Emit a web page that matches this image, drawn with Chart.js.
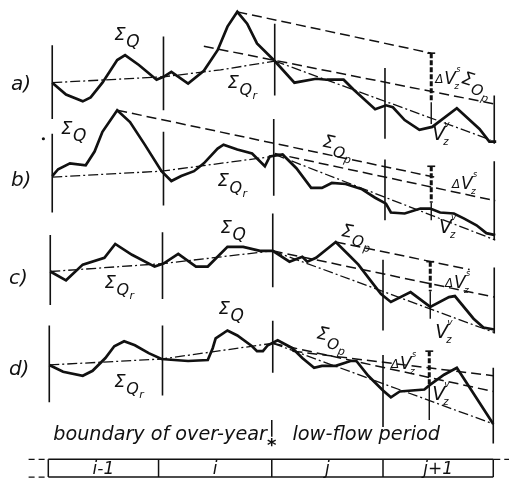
<!DOCTYPE html>
<html><head><meta charset="utf-8">
<script src="https://cdn.jsdelivr.net/npm/chart.js@4"></script>
<style>html,body{margin:0;padding:0;background:#fff;}canvas{display:block;}</style>
</head><body>
<canvas id="c" width="514" height="483"></canvas>
<script>
// ---- time axis: period boundaries (i-1, i, j, j+1) ----
const periods = ['i-1', 'i', 'j', 'j+1'];
const periodBounds = [45, 157, 272, 385, 497];

// ---- panel a) ----
const sumQ_a = [[49,80],[63,92],[80,99],[88,95],[100,80],[115,57],[123,52],[137,62],[155,77],[162,74],[170,69],[187,81],[203,68],[217,47],[227,23],[237,8],[247,20],[257,40],[275,58],[295,80],[317,76],[328,77],[345,77],[355,87],[377,107],[388,103],[395,105],[407,118],[422,128],[435,125],[460,106],[483,127],[493,140],[500,140]];
const sumQr_a = [[49,80],[162,74],[220,67],[275,58]];
const sumOp_a = [[237,8],[434,50]];
const mid_a = [[203,43],[500,102]];
const low_a = [[275,58],[494,138]];

// ---- panel b) ----
const sumQ_b = [[49,175],[55,168],[67,162],[83,164],[92,150],[100,130],[115,108],[128,120],[143,143],[160,170],[170,180],[180,175],[193,170],[203,162],[217,147],[223,143],[237,148],[252,152],[265,165],[270,155],[283,153],[297,167],[312,187],[323,187],[333,182],[347,183],[363,188],[377,197],[388,203],[393,212],[407,213],[423,208],[433,208],[443,212],[457,213],[467,218],[480,225],[490,233],[499,235]];
const sumQr_b = [[49,176],[160,170],[273,155]];
const sumOp_b = [[115,108],[437,176]];
const mid_b = [[275,152],[499,200]];
const low_b = [[275,153],[499,240]];

// ---- panel c) ----
const sumQ_c = [[47,272],[63,281],[80,265],[102,258],[113,244],[130,255],[153,267],[162,264],[177,254],[195,267],[207,267],[227,247],[243,247],[260,251],[273,251],[290,262],[303,257],[308,262],[317,258],[337,242],[350,255],[360,265],[373,282],[383,295],[393,303],[413,293],[433,308],[452,298],[458,297],[477,320],[487,329],[498,331]];
const sumQr_c = [[47,272],[161,264],[273,251]];
const sumOp_c = [[337,242],[473,270]];
const mid_c = [[273,251],[498,298]];
const low_c = [[273,251],[498,334]];

// ---- panel d) ----
const sumQ_d = [[46,367],[60,374],[80,378],[90,373],[103,360],[112,348],[122,343],[133,347],[147,355],[160,361],[173,362],[187,363],[207,362],[212,350],[215,340],[227,332],[237,337],[252,348],[257,353],[263,353],[268,347],[278,342],[293,350],[303,360],[315,370],[323,368],[337,368],[352,363],[358,363],[370,378],[385,393],[393,400],[402,394],[427,392],[433,387],[447,377],[460,370],[473,390],[497,427]];
const sumQr_d = [[46,367],[160,361],[273,345]];
const sumOp_d = [[293,353],[497,378]];
const mid_d = [[273,345],[497,394]];
const low_d = [[273,345],[497,427]];

// ---- period boundary verticals: [x, top, bottom] ----
const verticals = [
  [49,42,117],[162,33,108],[275,20,93],[387,65,137],[498,93,142],
  [49,132,212],[162,130,205],[274,117,195],[387,158,220],[498,160,240],
  [47,235,306],[161,232,300],[273,213,288],[385,260,332],[498,268,335],
  [46,327,405],[161,327,398],[273,322,375],[385,357,430],[497,370,447]
];
// ---- storage change ΔV (bold) and V (thin): [x, top, mid, bottom] ----
const deltaV = [[434,50,100,122],[434,165,202,220],[433,262,292,320],[432,353,388,423]];
const boundaryMark = [272, 423, 440];

const ink = '#111';
function line(points, width, dash) {
  return {data: points.map(p => ({x: p[0], y: p[1]})), showLine: true, borderColor: ink,
    backgroundColor: ink, borderWidth: width, borderDash: dash || [], pointRadius: 0,
    tension: 0, fill: false, clip: false};
}
const DASH = [10, 5], DASHDOT = [10, 3, 2, 3];
const datasets = [];
for (const v of verticals) datasets.push(line([[v[0], v[1]], [v[0], v[2]]], 1.6));
for (const [q, qr, op, mid, low] of [
  [sumQ_a, sumQr_a, sumOp_a, mid_a, low_a], [sumQ_b, sumQr_b, sumOp_b, mid_b, low_b],
  [sumQ_c, sumQr_c, sumOp_c, mid_c, low_c], [sumQ_d, sumQr_d, sumOp_d, mid_d, low_d]]) {
  datasets.push(line(q, 2.7));
  datasets.push(line(qr, 1.3, DASHDOT));
  datasets.push(line(op, 1.5, DASH));
  datasets.push(line(mid, 1.5, DASH));
  datasets.push(line(low, 1.3, DASHDOT));
}
for (const d of deltaV) {
  datasets.push(line([[d[0], d[1]], [d[0], d[2]]], 3, [5, 2]));
  datasets.push(line([[d[0], d[2]], [d[0], d[3]]], 1.4));
  datasets.push(line([[d[0] - 4, d[1]], [d[0] + 4, d[1]]], 1.6));
}
datasets.push(line([[boundaryMark[0], boundaryMark[1]], [boundaryMark[0], boundaryMark[2]]], 1.5));
// table of periods
const tTop = 463, tBot = 481;
datasets.push(line([[periodBounds[0], tTop], [periodBounds[4], tTop]], 1.5));
datasets.push(line([[periodBounds[0], tBot], [periodBounds[4], tBot]], 1.5));
datasets.push(line([[25, tTop], [periodBounds[0], tTop]], 1.3, [6, 4]));
datasets.push(line([[25, tBot], [periodBounds[0], tBot]], 1.3, [6, 4]));
datasets.push(line([[periodBounds[4], tTop], [513, tTop]], 1.3, [7, 4]));
for (const b of periodBounds) datasets.push(line([[b, tTop], [b, tBot]], 1.5));
// dot
datasets.push({data: [{x: 40, y: 137}], pointRadius: 1.6, backgroundColor: ink, borderWidth: 0, showLine: false});

// ---- labels (anchor in data units) ----
const SQ = [['Σ',18,0,0],['Q',17,12,7]];
const SQr = [['Σ',18,0,0],['Q',16,12,7],['r',11,25,11]];
const SOp = [['Σ',18,0,0],['O',15,12,7],['p',11,24,11]];
const DV = [['Δ',12,0,0],['V',17,9,1],['z',9,19,6],['s',8,21,-11]];
const VV = [['V',19,0,0],['z',10,11,5],['v',9,12,-13]];
const labels = [
  {x:7,y:87,parts:[['a)',20,0,0]]},{x:7,y:185,parts:[['b)',20,0,0]]},
  {x:5,y:285,parts:[['c)',20,0,0]]},{x:5,y:377,parts:[['d)',20,0,0]]},
  {x:112,y:37,parts:SQ},{x:58,y:132,parts:SQ},{x:220,y:233,parts:SQ},{x:218,y:315,parts:SQ},
  {x:227,y:85,parts:SQr},{x:217,y:185,parts:SQr},{x:102,y:289,parts:SQr},{x:112,y:389,parts:SQr},
  {x:464,y:80,rot:18,parts:SOp},{x:323,y:145,rot:12,parts:SOp},{x:342,y:236,rot:10,parts:SOp},{x:317,y:340,rot:12,parts:SOp},
  {x:438,y:80,parts:DV},{x:455,y:187,parts:DV},{x:448,y:288,parts:DV},{x:393,y:370,parts:DV},
  {x:435,y:138,parts:VV},{x:442,y:233,parts:VV},{x:438,y:340,parts:VV},{x:435,y:403,parts:VV}
];
const caption = [['boundary of over-year', 50, 267, 443, 19], ['low-flow period', 293, 443, 443, 19]];

const textPlugin = {
  id: 'texts',
  afterDatasetsDraw(chart) {
    const ctx = chart.ctx, X = chart.scales.x, Y = chart.scales.y;
    ctx.save();
    ctx.fillStyle = ink;
    ctx.textBaseline = 'alphabetic';
    for (const L of labels) {
      ctx.save();
      ctx.translate(X.getPixelForValue(L.x), Y.getPixelForValue(L.y));
      if (L.rot) ctx.rotate(L.rot * Math.PI / 180);
      for (const [t, s, dx, dy] of L.parts) {
        ctx.font = `italic ${s}px "DejaVu Sans"`;
        ctx.fillText(t, dx, dy);
      }
      ctx.restore();
    }
    for (const [t, x1, x2, base, s] of caption) {
      ctx.font = `italic ${s}px "DejaVu Sans"`;
      const w = ctx.measureText(t).width;
      const p1 = X.getPixelForValue(x1), p2 = X.getPixelForValue(x2);
      ctx.save();
      ctx.translate(p1, Y.getPixelForValue(base));
      ctx.scale((p2 - p1) / w, 1);
      ctx.fillText(t, 0, 0);
      ctx.restore();
    }
    ctx.font = 'bold 18px "DejaVu Sans"';
    ctx.textAlign = 'center';
    ctx.fillText('*', X.getPixelForValue(boundaryMark[0]), Y.getPixelForValue(455));
    ctx.font = 'italic 17px "DejaVu Sans"';
    periods.forEach((p, i) => {
      const cx = (periodBounds[i] + periodBounds[i + 1]) / 2;
      ctx.fillText(p, X.getPixelForValue(cx), Y.getPixelForValue(478));
    });
    ctx.restore();
  }
};

new Chart(document.getElementById('c'), {
  type: 'scatter',
  data: {datasets},
  options: {
    responsive: false, animation: false,
    layout: {padding: 0},
    plugins: {legend: {display: false}, tooltip: {enabled: false}},
    scales: {
      x: {type: 'linear', min: 0, max: 514, display: false},
      y: {type: 'linear', min: 0, max: 483, reverse: true, display: false}
    }
  },
  plugins: [textPlugin]
});
</script>
</body></html>
